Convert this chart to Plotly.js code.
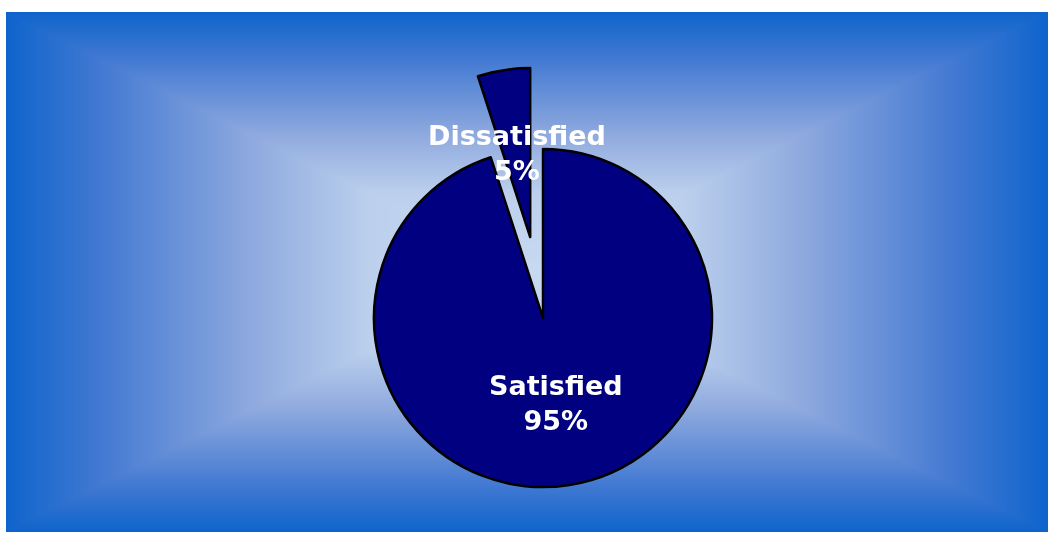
<!DOCTYPE html>
<html>
<head>
<meta charset="utf-8">
<script src="https://cdn.plot.ly/plotly-3.0.1.min.js"></script>
<style>
  html, body { margin:0; padding:0; background:#ffffff; overflow:hidden; width:1050px; height:533px; }
  #bg { position:absolute; left:6px; top:12px; }
  #chart { position:absolute; left:0; top:0; width:1050px; height:640px; }
</style>
</head>
<body>
<canvas id="bg" width="1042" height="520"></canvas>
<div id="chart"></div>
<script>
// Data
const labels = ['Dissatisfied', 'Satisfied'];
const values = [5, 95];
const percentText = ['5%', '95%'];

// Background: rectangular gradient (light centre, blue edges)
(function(){
  const cv = document.getElementById('bg');
  const ctx = cv.getContext('2d');
  const W = cv.width, H = cv.height;
  const img = ctx.createImageData(W, H);
  const stops = [
    [0.0, [200, 217, 241]],
    [0.30, [188, 208, 237]],
    [0.53, [142, 169, 222]],
    [0.82, [66, 121, 210]],
    [1.0, [14, 100, 204]]
  ];
  function col(t){
    for (let i = 1; i < stops.length; i++) {
      if (t <= stops[i][0]) {
        const a = stops[i-1], b = stops[i];
        const f = (t - a[0]) / (b[0] - a[0]);
        return [0,1,2].map(k => a[1][k] + (b[1][k] - a[1][k]) * f);
      }
    }
    return stops[stops.length-1][1];
  }
  const cx = W / 2, cy = H / 2;
  for (let y = 0; y < H; y++) {
    for (let x = 0; x < W; x++) {
      const t = Math.min(1, Math.max(Math.abs(x + 0.5 - cx) / cx, Math.abs(y + 0.5 - cy) / cy));
      const c = col(t);
      const p = (y * W + x) * 4;
      img.data[p] = c[0]; img.data[p+1] = c[1]; img.data[p+2] = c[2]; img.data[p+3] = 255;
    }
  }
  ctx.putImageData(img, 0, 0);
})();

const trace = {
  type: 'pie',
  labels: labels,
  values: values,
  sort: false,
  direction: 'clockwise',
  rotation: -18,
  pull: [0.485, 0],
  textinfo: 'none',
  hoverinfo: 'none',
  marker: { colors: ['#000080', '#000080'], line: { color: '#000000', width: 2.5 } },
  domain: { x: [0.2781, 0.7562], y: [0.1109, 0.8953] }
};

const labelFont = { family: 'DejaVu Sans, Arial, sans-serif', size: 27, color: '#ffffff', weight: 'bold' };

const layout = {
  width: 1050,
  height: 640,
  margin: { l: 0, r: 0, t: 0, b: 0, pad: 0 },
  paper_bgcolor: 'rgba(0,0,0,0)',
  plot_bgcolor: 'rgba(0,0,0,0)',
  showlegend: false,
  annotations: [
    { xref: 'paper', yref: 'paper', x: 0.4924, y: 0.761, xanchor: 'center', yanchor: 'middle',
      text: '<b>' + labels[0] + '<br>' + percentText[0] + '</b>', showarrow: false, font: labelFont },
    { xref: 'paper', yref: 'paper', x: 0.5295, y: 0.370, xanchor: 'center', yanchor: 'middle',
      text: '<b>' + labels[1] + '<br>' + percentText[1] + '</b>', showarrow: false, font: labelFont }
  ]
};

Plotly.newPlot('chart', [trace], layout, { displayModeBar: false, staticPlot: true });
</script>
</body>
</html>
